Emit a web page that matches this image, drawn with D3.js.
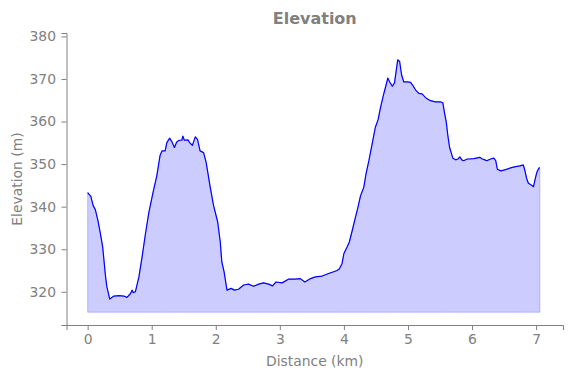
<!DOCTYPE html>
<html>
<head>
<meta charset="utf-8">
<script src="https://cdn.jsdelivr.net/npm/d3@7"></script>
<style>
  body { margin: 0; background: #fff; }
  svg text { font-family: "DejaVu Sans", sans-serif; fill: #808080; }
</style>
</head>
<body>
<div id="chart"></div>
<script>
// Elevation profile, distance in km and elevation in m
let distanceKm = [
  0.00, 0.05, 0.085, 0.12, 0.16, 0.20, 0.235, 0.28, 0.30, 0.345,
  0.41, 0.49, 0.565, 0.615, 0.67, 0.695, 0.71, 0.745, 0.80, 0.85,
  0.90, 0.955, 1.02, 1.08, 1.13, 1.16, 1.21, 1.235, 1.28, 1.31,
  1.355, 1.39, 1.43, 1.47, 1.485, 1.51, 1.565, 1.60, 1.635, 1.68,
  1.715, 1.755, 1.81, 1.85, 1.91, 1.965, 2.03, 2.07, 2.095, 2.13,
  2.175, 2.24, 2.29, 2.355, 2.435, 2.51, 2.59, 2.67, 2.745, 2.825,
  2.885, 2.94, 3.035, 3.14, 3.24, 3.32, 3.39, 3.48, 3.555, 3.66,
  3.76, 3.84, 3.895, 3.93, 3.97, 4.00, 4.05, 4.085, 4.13, 4.18,
  4.22, 4.26, 4.31, 4.345, 4.39, 4.44, 4.49, 4.535, 4.57, 4.62,
  4.66, 4.685, 4.715, 4.755, 4.79, 4.815, 4.84, 4.87, 4.90, 4.935,
  4.99, 5.04, 5.075, 5.12, 5.17, 5.22, 5.275, 5.35, 5.43, 5.51,
  5.545, 5.57, 5.60, 5.62, 5.65, 5.675, 5.70, 5.745, 5.78, 5.81,
  5.84, 5.87, 5.925, 5.95, 6.03, 6.12, 6.16, 6.20, 6.23, 6.29,
  6.34, 6.37, 6.395, 6.45, 6.525, 6.60, 6.68, 6.75, 6.80, 6.82,
  6.855, 6.88, 6.925, 6.96, 6.98, 7.01, 7.045, 7.06
];
let elevationM = [
  343.3, 342.4, 340.3, 339.3, 336.8, 333.6, 330.5, 323.5, 321.2, 318.3,
  319.0, 319.1, 319.0, 318.7, 319.6, 320.4, 319.8, 320.0, 323.5, 328.2,
  333.4, 338.6, 343.3, 347.3, 352.0, 353.1, 353.1, 355.0, 356.1, 355.4,
  353.9, 355.2, 355.6, 355.6, 356.6, 355.6, 355.7, 354.9, 354.4, 356.4,
  355.8, 353.1, 352.7, 350.4, 344.9, 340.3, 336.4, 331.7, 327.0, 324.7,
  320.4, 320.8, 320.4, 320.6, 321.6, 321.8, 321.3, 321.8, 322.1, 321.8,
  321.4, 322.3, 322.1, 323.0, 323.0, 323.1, 322.3, 323.1, 323.5, 323.7,
  324.3, 324.7, 325.0, 325.4, 326.6, 329.0, 330.5, 331.7, 334.4, 337.5,
  339.9, 342.6, 344.5, 347.7, 350.8, 354.7, 358.6, 360.5, 363.2, 366.4,
  368.7, 370.2, 369.3, 368.3, 369.1, 371.8, 374.5, 374.1, 371.0, 369.3,
  369.3, 369.2, 368.5, 367.4, 366.6, 366.5, 365.6, 364.9, 364.6, 364.6,
  364.4, 362.1, 359.7, 357.0, 353.9, 352.7, 351.4, 351.0, 351.2, 351.7,
  351.0, 350.8, 351.2, 351.2, 351.3, 351.6, 351.2, 351.0, 350.8, 351.2,
  351.4, 350.8, 348.8, 348.4, 348.7, 349.1, 349.4, 349.6, 349.8, 348.8,
  346.5, 345.5, 345.1, 344.7, 346.1, 348.0, 349.1, 349.1
];
let xTicks = [0, 1, 2, 3, 4, 5, 6, 7];
let yTicks = [320, 330, 340, 350, 360, 370, 380];
let fillBase = 315.2;

let data = distanceKm.map((d, i) => ({ dist: d, elev: elevationM[i] }));

// dimensions
let W = 571, H = 378;
let margin = { top: 33, right: 8, bottom: 53, left: 66.5 };
let width = W - margin.left - margin.right,
    height = H - margin.top - margin.bottom;

let svg = d3.select("#chart").append("svg")
    .attr("width", W).attr("height", H);
let g = svg.append("g")
    .attr("transform", "translate(" + margin.left + "," + margin.top + ")");

let x = d3.scaleLinear().domain([-0.33, 7.42]).range([0, width]);
let y = d3.scaleLinear().domain([312.2, 380.8]).range([height, 0]);

// filled area under the profile
let area = d3.area()
    .x(d => x(d.dist))
    .y0(y(fillBase))
    .y1(d => y(d.elev));
g.append("path")
    .datum(data)
    .attr("d", area)
    .attr("fill", "rgba(0,0,255,0.2)")
    .attr("stroke", "rgba(0,0,255,0.2)")
    .attr("stroke-width", 1);

// the line
let line = d3.line()
    .x(d => x(d.dist))
    .y(d => y(d.elev));
g.append("path")
    .datum(data)
    .attr("d", line)
    .attr("fill", "none")
    .attr("stroke", "#0000ff")
    .attr("stroke-width", 1.2)
    .attr("stroke-linejoin", "round");

// axes
let xAxis = g.append("g")
    .attr("transform", "translate(0," + height + ")")
    .call(d3.axisBottom(x).tickValues(xTicks).tickFormat(d3.format("d")).tickSizeOuter(0).tickSize(5).tickPadding(4.5));
let yAxis = g.append("g")
    .call(d3.axisLeft(y).tickValues(yTicks).tickFormat(d3.format("d")).tickSizeOuter(0).tickSize(5).tickPadding(5.5));

[xAxis, yAxis].forEach(a => {
    a.select(".domain").attr("stroke", "#808080").attr("stroke-width", 1);
    a.selectAll(".tick line").attr("stroke", "#808080").attr("stroke-width", 1);
    a.selectAll(".tick text").attr("fill", "#808080").style("font-size", "13.9px");
});

// labels
svg.append("text")
    .attr("x", margin.left + width / 2)
    .attr("y", 366)
    .attr("text-anchor", "middle")
    .style("font-size", "13.9px")
    .text("Distance (km)");

svg.append("text")
    .attr("transform", "translate(21.5," + (margin.top + height / 2) + ") rotate(-90)")
    .attr("text-anchor", "middle")
    .style("font-size", "13.9px")
    .text("Elevation (m)");

svg.append("text")
    .attr("x", margin.left + width / 2)
    .attr("y", 24)
    .attr("text-anchor", "middle")
    .style("font-size", "16px")
    .style("font-weight", "bold")
    .text("Elevation");
</script>
</body>
</html>
